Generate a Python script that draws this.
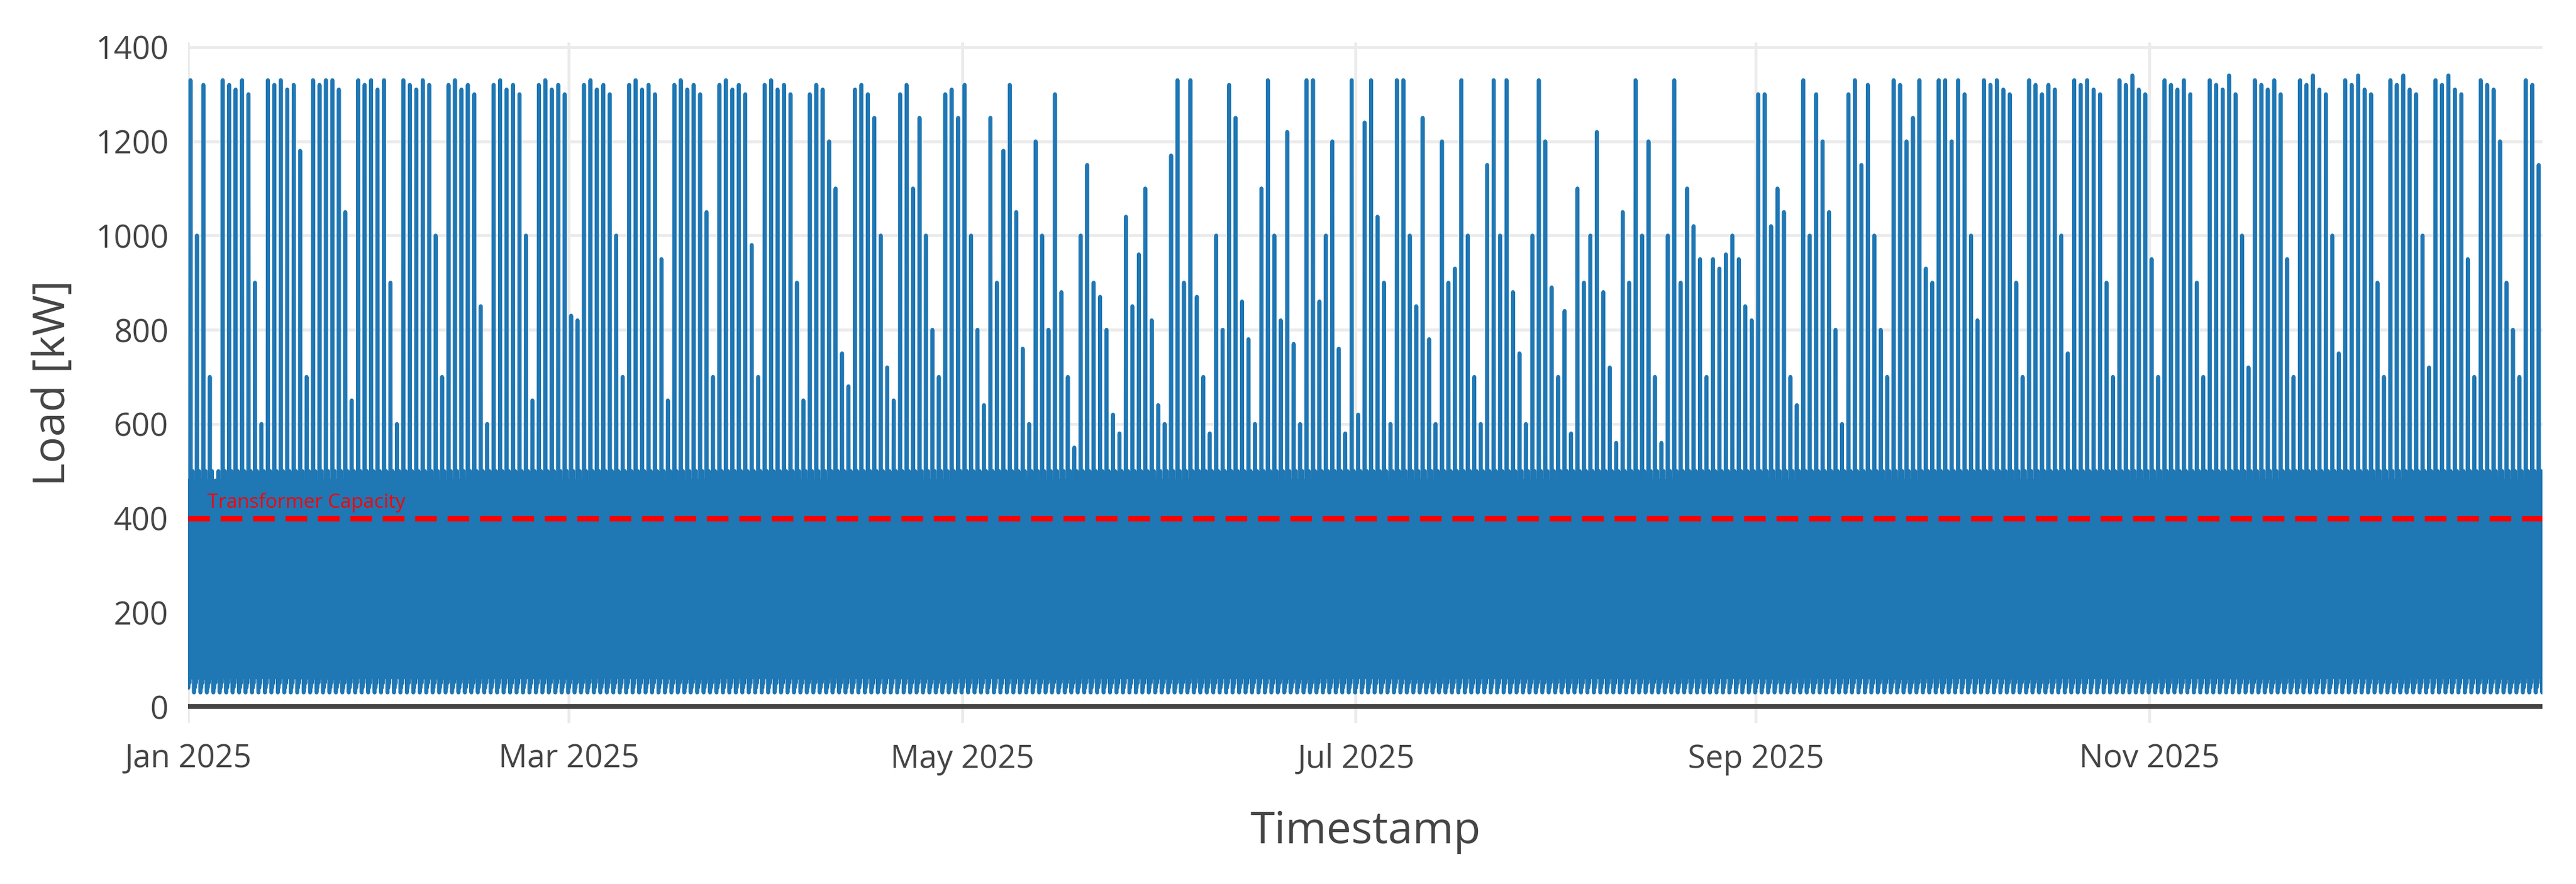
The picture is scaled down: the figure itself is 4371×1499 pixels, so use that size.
import numpy as np, pandas as pd, matplotlib
matplotlib.use("Agg")
import matplotlib.pyplot as plt, matplotlib.dates as mdates, seaborn as sns

peaks = [1330,1000,1320,700,400,1330,1320,1310,1330,1300,900,600,1330,1320,1330,1310,1320,1180,700,1330,1320,1330,1330,1310,1050,650,1330,1320,1330,1310,1330,
900,600,1330,1320,1310,1330,1320,1000,700,1320,1330,1310,1320,1300,850,600,1320,1330,1310,1320,1300,1000,650,1320,1330,1310,1320,1300,
830,820,1320,1330,1310,1320,1300,1000,700,1320,1330,1310,1320,1300,950,650,1320,1330,1310,1320,1300,1050,700,1320,1330,1310,1320,1300,980,700,1320,
1330,1310,1320,1300,900,650,1300,1320,1310,1200,1100,750,680,1310,1320,1300,1250,1000,720,650,1300,1320,1100,1250,1000,800,700,1300,1310,1250,
1320,1000,800,640,1250,900,1180,1320,1050,760,600,1200,1000,800,1300,880,700,550,1000,1150,900,870,800,620,580,1040,850,960,1100,820,640,
600,1170,1330,900,1330,870,700,580,1000,800,1320,1250,860,780,600,1100,1330,1000,820,1220,770,600,1330,1330,860,1000,1200,760,580,1330,
620,1240,1330,1040,900,600,1330,1330,1000,850,1250,780,600,1200,900,930,1330,1000,700,600,1150,1330,1000,1330,880,750,600,1000,1330,1200,890,
700,840,580,1100,900,1000,1220,880,720,560,1050,900,1330,1000,1200,700,560,1000,1330,900,1100,1020,950,700,950,930,960,1000,950,850,820,
1300,1300,1020,1100,1050,700,640,1330,1000,1300,1200,1050,800,600,1300,1330,1150,1320,1000,800,700,1330,1320,1200,1250,1330,930,900,1330,1330,
1200,1330,1300,1000,820,1330,1320,1330,1310,1300,900,700,1330,1320,1300,1320,1310,1000,750,1330,1320,1330,1310,1300,900,700,1330,1320,1340,1310,1300,
950,700,1330,1320,1310,1330,1300,900,700,1330,1320,1310,1340,1300,1000,720,1330,1320,1310,1330,1300,950,700,1330,1320,1340,1310,1300,1000,750,
1330,1320,1340,1310,1300,900,700,1330,1320,1340,1310,1300,1000,720,1330,1320,1340,1310,1300,950,700,1330,1320,1310,1200,900,800,700,1330,1320,1150]
hours = [0, 1, 2, 3, 4, 5, 6, 7, 8, 9, 10, 11, 12, 13, 14, 15, 16, 17, 18, 19, 20, 21, 22, 23]
profile = [90, 40, 160, 70, 220, 50, 480, 180, 400, None, 300, 440, 120, 450, 200, 380, 90, 500, 150, 300, 60, 240, 30, 130]
capacity = 400

days = pd.date_range("2025-01-01", periods=len(peaks), freq="D")
ts, vals = [], []
for d, p in zip(days, peaks):
    for h, v in zip(hours, profile):
        ts.append(d + pd.Timedelta(hours=h)); vals.append(p if v is None else v)
df = pd.DataFrame({"Timestamp": ts, "Load": vals})

sns.set_theme(style="white")
plt.rcParams['font.family'] = ['Open Sans', 'DejaVu Sans']
fig = plt.figure(figsize=(4371/300, 1499/300), dpi=300)
ax = fig.add_axes([0.073, 0.182, 0.914, 0.77])
sns.lineplot(data=df, x="Timestamp", y="Load", ax=ax, color="#1f77b4", linewidth=1.6, estimator=None)
ax.axhline(capacity, color="red", dashes=(4, 2), lw=2.2, zorder=5)
ax.axhline(0, color="#444444", lw=2, zorder=4)
ax.text(pd.Timestamp("2025-01-04"), capacity + 12, "Transformer Capacity", color="red", fontsize=8, va="bottom", zorder=6)
ax.set_ylim(-35, 1410)
ax.set_xlim(pd.Timestamp("2025-01-01"), pd.Timestamp("2025-12-31 23:00"))
ax.set_yticks(range(0, 1401, 200))
ax.xaxis.set_major_locator(mdates.MonthLocator(bymonth=[1, 3, 5, 7, 9, 11]))
ax.xaxis.set_major_formatter(mdates.DateFormatter("%b %Y"))
ax.grid(True, color="#ebebeb", lw=1.2)
ax.set_axisbelow(True)
for s in ax.spines.values(): s.set_visible(False)
ax.tick_params(colors="#444444", labelsize=13, length=0, pad=8)
ax.set_xlabel("Timestamp", fontsize=18, color="#444444", labelpad=14)
ax.set_ylabel("Load [kW]", fontsize=18, color="#444444", labelpad=8)
fig.savefig("out.png", dpi=300)
